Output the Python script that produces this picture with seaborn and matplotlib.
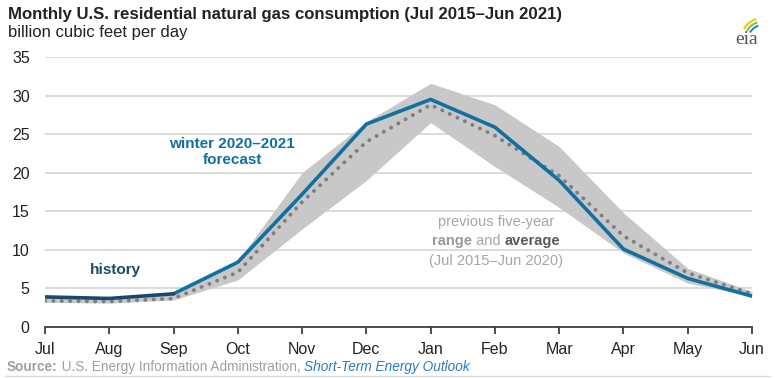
import matplotlib
matplotlib.use('Agg')
import matplotlib.pyplot as plt
import seaborn as sns
import numpy as np
import pandas as pd
from matplotlib.offsetbox import TextArea, HPacker, VPacker, AnnotationBbox
from matplotlib.patches import Arc
from matplotlib.lines import Line2D

# data (bcf/d)
months = ['Jul', 'Aug', 'Sep', 'Oct', 'Nov', 'Dec', 'Jan', 'Feb', 'Mar', 'Apr', 'May', 'Jun']
history = [3.9, 3.7, 4.3]
forecast = [4.3, 8.4, 17.2, 26.3, 29.5, 25.9, 19.0, 10.1, 6.3, 4.0]
avg_5yr = [3.4, 3.3, 3.7, 7.1, 16.2, 24.0, 28.8, 24.8, 19.6, 11.8, 7.0, 4.3]
range_hi = [3.8, 3.6, 4.2, 8.6, 20.0, 26.6, 31.6, 28.8, 23.4, 14.8, 7.6, 4.6]
range_lo = [3.2, 3.1, 3.5, 6.1, 12.7, 19.0, 26.5, 20.8, 15.5, 9.6, 5.7, 4.0]

sns.set_theme(style='white')
plt.rcParams['font.family'] = ['Liberation Sans', 'DejaVu Sans']

NAVY = '#174a6b'
BLUE = '#1170a0'
BAND = '#c8c8c8'
DOTS = '#7f7f7f'
GRID = '#d9d9d9'

x = np.arange(len(months))
df_hist = pd.DataFrame({'x': x[:3], 'y': history})
df_fc = pd.DataFrame({'x': x[2:], 'y': forecast})
df_avg = pd.DataFrame({'x': x, 'y': avg_5yr})

fig = plt.figure(figsize=(7.79, 3.78), dpi=100)
ax = fig.add_axes([45 / 779, 1 - 327 / 378, (752 - 45) / 779, 270 / 378])

ax.fill_between(x, range_lo, range_hi, color=BAND, lw=0, zorder=2)
sns.lineplot(data=df_avg, x='x', y='y', ax=ax, color=DOTS, lw=2.8, zorder=3)
avg_line = ax.lines[-1]
avg_line.set_linestyle((0, (0.05, 2.1)))
avg_line.set_dash_capstyle('round')
sns.lineplot(data=df_fc, x='x', y='y', ax=ax, color=BLUE, lw=2.6, zorder=4)
sns.lineplot(data=df_hist, x='x', y='y', ax=ax, color=NAVY, lw=2.6, zorder=4)

ax.set_xlim(0, 11)
ax.set_ylim(0, 35)
ax.set_yticks(range(0, 36, 5))
ax.set_xticks(x)
ax.set_xticklabels(months)
ax.set_xlabel('')
ax.set_ylabel('')
ax.yaxis.grid(True, color=GRID, lw=1.3)
ax.set_axisbelow(True)
for s in ['top', 'right', 'left']:
    ax.spines[s].set_visible(False)
ax.spines['bottom'].set_color('#404040')
ax.spines['bottom'].set_linewidth(1.3)
ax.tick_params(axis='x', direction='out', length=5, width=1.3, color='#404040',
               labelsize=11.5, labelcolor='#222222', pad=6, bottom=True)
ax.tick_params(axis='y', length=0, labelsize=11.5, labelcolor='#222222', pad=11)

# annotations
ax.text(1.09, 7.4, 'history', color=NAVY, fontsize=11, fontweight='bold',
        ha='center', va='center')
ax.text(2.91, 22.7, 'winter 2020\u20132021\nforecast', color=BLUE, fontsize=11,
        fontweight='bold', ha='center', va='center', linespacing=1.15)

gray_txt = '#a6a6a6'
fs = 10.5
l1 = TextArea('previous five-year', textprops=dict(color=gray_txt, fontsize=fs))
l2 = HPacker(children=[
    TextArea('range', textprops=dict(color='#999999', fontsize=fs, fontweight='bold')),
    TextArea(' and ', textprops=dict(color=gray_txt, fontsize=fs)),
    TextArea('average', textprops=dict(color='#595959', fontsize=fs, fontweight='bold')),
], sep=0, pad=0, align='baseline')
l3 = TextArea('(Jul 2015\u2013Jun 2020)', textprops=dict(color=gray_txt, fontsize=fs))
box = VPacker(children=[l1, l2, l3], sep=4, pad=0, align='center')
ax.add_artist(AnnotationBbox(box, (7.02, 11.1), frameon=False, box_alignment=(0.5, 0.5),
                             xycoords='data'))

# title block
fig.text(8 / 779, 1 - 15 / 378, 'Monthly U.S. residential natural gas consumption (Jul 2015\u2013Jun 2021)',
         fontsize=12.1, fontweight='bold', color='#222222', va='center', ha='left')
fig.text(8 / 779, 1 - 33 / 378, 'billion cubic feet per day', fontsize=12, color='#222222',
         va='center', ha='left')

# source line
src = HPacker(children=[
    TextArea('Source:', textprops=dict(color='#a0a0a0', fontsize=9.8, fontweight='bold')),
    TextArea(' U.S. Energy Information Administration, ', textprops=dict(color='#a0a0a0', fontsize=9.8)),
    TextArea('Short-Term Energy Outlook', textprops=dict(color='#2b7bb9', fontsize=9.8, style='italic')),
], sep=0, pad=0, align='baseline')
fig.add_artist(AnnotationBbox(src, (7, 378 - 367), xycoords='figure pixels', frameon=False,
                              box_alignment=(0, 0.5)))
fig.add_artist(Line2D([5 / 779, 770 / 779], [1 - 376 / 378] * 2, color=GRID, lw=1))

# eia logo (rough)
fig.text(747 / 779, 1 - 39 / 378, 'eia', fontsize=14, color='#555555', ha='center', va='center',
         family='Liberation Serif')
for (r, c) in [(22, '#f2c500'), (18.5, '#7cc242'), (15, '#2b8ac6')]:
    fig.add_artist(Arc((763, 378 - 40), 2 * r, 2 * r, theta1=108, theta2=150,
                       color=c, lw=1.5, transform=None))

fig.savefig('out.png', dpi=100)
